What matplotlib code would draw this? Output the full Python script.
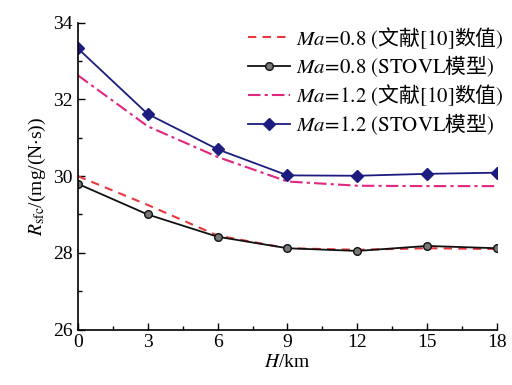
import matplotlib
matplotlib.use("Agg")
import matplotlib.pyplot as plt
from matplotlib.ticker import MultipleLocator

plt.rcParams["font.family"] = ["Liberation Serif", "Noto Sans CJK SC"]
plt.rcParams["mathtext.fontset"] = "stix"

# 数据
H = [0, 3, 6, 9, 12, 15, 18]
ma08_ref = [30.0, 29.25, 28.45, 28.12, 28.08, 28.12, 28.1]
ma08_stovl = [29.8, 29.0, 28.42, 28.12, 28.05, 28.18, 28.12]
ma12_ref = [32.63, 31.3, 30.5, 29.86, 29.75, 29.74, 29.74]
ma12_stovl = [33.33, 31.62, 30.7, 30.02, 30.01, 30.06, 30.09]

# 中文部分用 CJK 字体（非 math 部分），其余用 stix 罗马体
labels = [
    r"$Ma\!=\!\mathrm{0.8\ (}$文献$\mathrm{[10]}$数值$\mathrm{)}$",
    r"$Ma\!=\!\mathrm{0.8\ (STOVL}$模型$\mathrm{)}$",
    r"$Ma\!=\!\mathrm{1.2\ (}$文献$\mathrm{[10]}$数值$\mathrm{)}$",
    r"$Ma\!=\!\mathrm{1.2\ (STOVL}$模型$\mathrm{)}$",
]

fig = plt.figure(figsize=(5.12, 3.85), dpi=100)
ax = fig.add_axes([0.152, 0.144, 0.819, 0.797])

ax.plot(H, ma08_ref, ls=(0, (4, 3)), color="#e8383d", lw=1.5, label=labels[0])
ax.plot(H, ma08_stovl, "-o", color="#111111", lw=1.3, ms=5.5,
        mfc="#777777", mec="#111111", label=labels[1])
ax.plot(H, ma12_ref, ls=(0, (6, 2, 1.5, 2)), color="#e0267f", lw=1.5, label=labels[2])
ax.plot(H, ma12_stovl, "-D", color="#1c1c80", lw=1.3, ms=6.5, label=labels[3])

ax.set_xlim(0, 18)
ax.set_ylim(26, 34)
ax.xaxis.set_major_locator(MultipleLocator(3))
ax.xaxis.set_minor_locator(MultipleLocator(1.5))
ax.yaxis.set_major_locator(MultipleLocator(2))
ax.yaxis.set_minor_locator(MultipleLocator(1))
ax.tick_params(which="both", direction="in", labelsize=14, width=1)
ax.tick_params(which="major", length=5)
ax.tick_params(which="minor", length=3)
ax.spines["top"].set_visible(False)
ax.spines["right"].set_visible(False)
for s in ("left", "bottom"):
    ax.spines[s].set_linewidth(1.2)

ax.set_xlabel(r"$H$/km", fontsize=14, labelpad=2)
ax.set_ylabel(r"$R_{\rm sfc}$/(mg/(N$\cdot$s))", fontsize=14, labelpad=4)

leg = ax.legend(loc="upper right", frameon=False, fontsize=15, handlelength=2.0,
                handletextpad=0.3, labelspacing=0.15, borderaxespad=0.0,
                bbox_to_anchor=(1.035, 1.02))
for t in leg.get_texts():
    t.set_family("Noto Sans CJK SC")

fig.savefig("out.png", dpi=100)
